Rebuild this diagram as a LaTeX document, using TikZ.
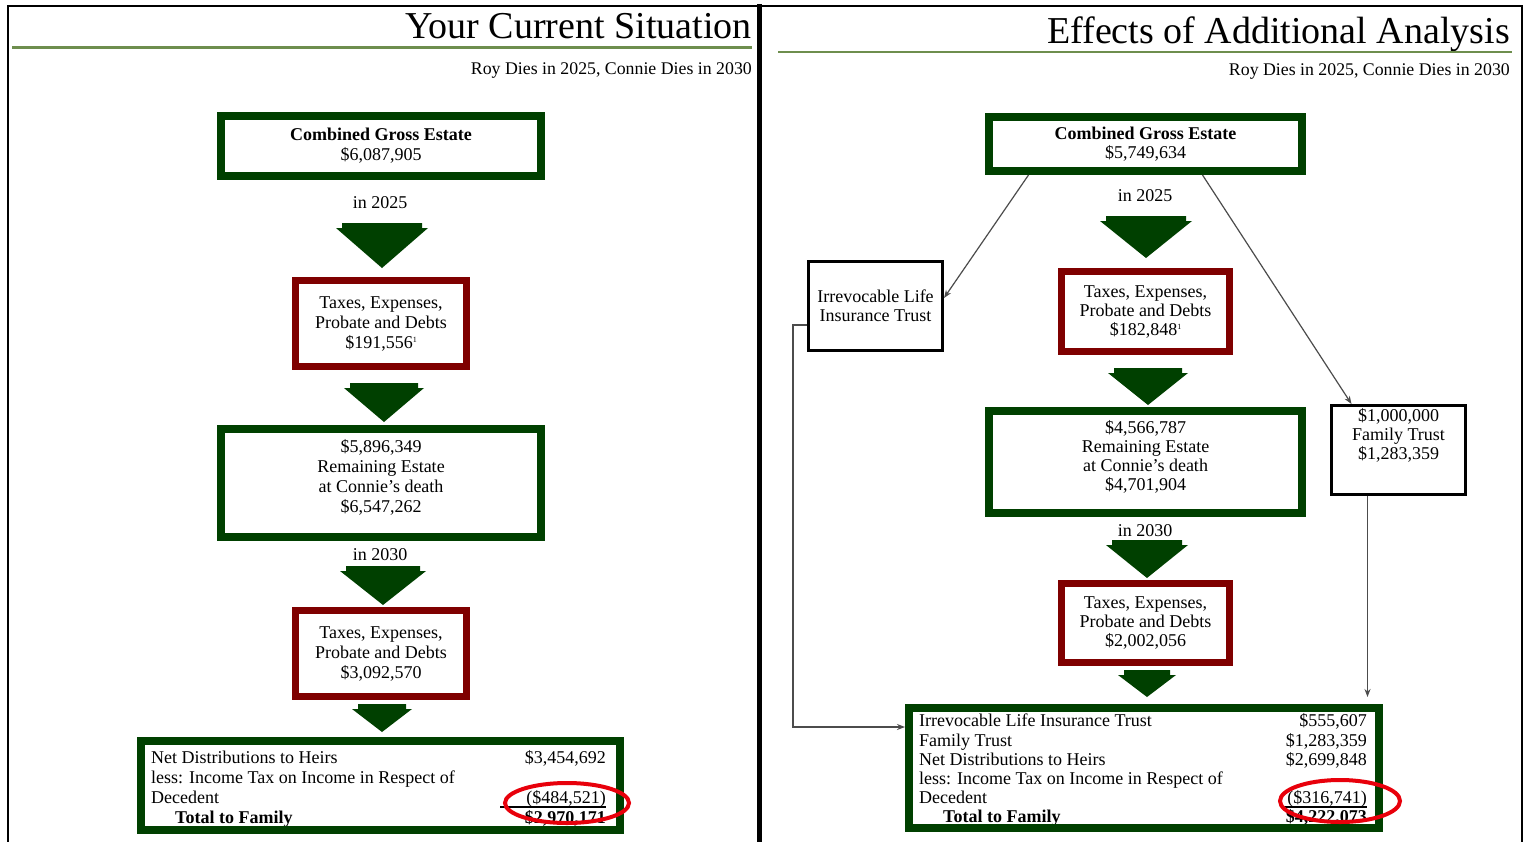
\documentclass[tikz,border=0pt]{standalone}
\usepackage{fontspec}
\setmainfont{Liberation Serif}
\usetikzlibrary{arrows.meta,calc}
\definecolor{dkgreen}{HTML}{004000}
\definecolor{dkred}{HTML}{7F0000}
\definecolor{rulegreen}{HTML}{6E8E4E}
\definecolor{ovalred}{HTML}{E8000B}
\newcommand\bt{\fontsize{18}{20}\selectfont}
\newcommand\btr{\fontsize{18}{19}\selectfont}
\newcommand\supone{\raisebox{6pt}{\fontsize{8}{8}\selectfont 1}}
\newcommand\blockarrow[4]{\fill[dkgreen] (#1-#3+6,#2) -- (#1+#3-6,#2) -- (#1+#3-6,#2+5) -- (#1+#3,#2+5) -- (#1,#2+#4) -- (#1-#3,#2+5) -- (#1-#3+6,#2+5) -- cycle;}
\begin{document}
\begin{tikzpicture}[x=1pt,y=-1pt,
  gbox/.style={draw=dkgreen,line width=8pt,inner sep=0pt,align=center,font=\bt},
  rbox/.style={draw=dkred,line width=7pt,inner sep=0pt,align=center,font=\bt},
  bbox/.style={draw=black,line width=3pt,inner sep=0pt,align=center,font=\btr},
  txt/.style={inner sep=0pt,font=\bt},
  conn/.style={draw=black!70,line width=1.2pt,-{Stealth[length=8pt,width=6pt]}},
  ttl/.style={inner sep=0pt,font=\fontsize{38}{40}\selectfont,anchor=base east},
  sub/.style={inner sep=0pt,font=\fontsize{17.8}{20}\selectfont,anchor=base east}]
\useasboundingbox (0,0) rectangle (1529,841);
\clip (0,0) rectangle (1529,841);
\fill[white] (0,0) rectangle (1529,841);
% panel frames
\draw[line width=2pt] (8,860) -- (8,6) -- (759,6);
\draw[line width=5pt] (759.5,4) -- (759.5,860);
\draw[line width=2pt] (759,6) -- (1522,6) -- (1522,860);
% ---------------- left panel ----------------
\node[ttl] (lt) at (752,38) {Your Current Situation};
\draw[rulegreen,line width=3pt] (12,47) -- (752,47);
\node[sub] (ls) at (752,74) {Roy Dies in 2025, Connie Dies in 2030};

\node[gbox,minimum width=320pt,minimum height=60pt] (l1) at (381,146) {\textbf{Combined Gross Estate}\\\$6,087,905};
\node[txt] (ly1) at (380,203) {in 2025};
\blockarrow{382}{223}{46}{45}
\node[rbox,minimum width=171pt,minimum height=86pt] (l2) at (381,323.5) {Taxes, Expenses,\\Probate and Debts\\\$191,556\supone};
\blockarrow{384}{383}{40}{39}
\node[gbox,minimum width=320pt,minimum height=108pt] (l3) at (381,483) {\$5,896,349\\Remaining Estate\\at Connie's death\\\$6,547,262\\[-6pt]};
\node[txt] (ly2) at (380,555) {in 2030};
\blockarrow{383}{566}{43}{39}
\node[rbox,minimum width=171pt,minimum height=86pt] (l4) at (381,653.5) {Taxes, Expenses,\\Probate and Debts\\\$3,092,570};
\blockarrow{382}{704}{30}{28}

\node[txt,anchor=base west] (la) at (151,763) {Net Distributions to Heirs};
\node[txt,anchor=base west] (lb) at (151,783) {less: Income Tax on Income in Respect of};
\node[txt,anchor=base west] (lc) at (151,803) {Decedent};
\node[txt,anchor=base west] (ld) at (175,823) {\textbf{Total to Family}};
\node[txt,anchor=base east] (lva) at (606,763) {\$3,454,692};
\node[txt,anchor=base east] (lvc) at (606,803) {(\$484,521)};
\node[txt,anchor=base east] (lvd) at (606,823) {\textbf{\$2,970,171}};
\draw[line width=1.2pt] (500,807) -- (lvc.base east |- 0,807);
\node[gbox,minimum width=479pt,minimum height=89pt] (l5) at (380.5,785.5) {};
\draw[ovalred,line width=4pt] (567,803) ellipse [x radius=62pt, y radius=20pt];

% ---------------- right panel ----------------
\node[ttl] (rt) at (1510,43) {Effects of Additional Analysis};
\draw[rulegreen,line width=2pt] (778,52) -- (1512,52);
\node[sub] (rs) at (1510,75) {Roy Dies in 2025, Connie Dies in 2030};

\node[gbox,minimum width=313pt,minimum height=54pt,font=\btr] (r1) at (1145.5,144) {\textbf{Combined Gross Estate}\\\$5,749,634};
\node[txt] (ry1) at (1145,196) {in 2025};
\blockarrow{1146}{216}{46}{42}
\node[bbox,minimum width=134pt,minimum height=89pt] (ilit) at (875.5,306) {Irrevocable Life\\Insurance Trust};
\node[rbox,minimum width=168pt,minimum height=80pt,font=\btr] (r2) at (1145.5,311.5) {Taxes, Expenses,\\Probate and Debts\\\$182,848\supone};
\blockarrow{1148}{368}{40}{37}
\node[gbox,minimum width=313pt,minimum height=102pt,font=\btr] (r3) at (1145.5,462) {\$4,566,787\\Remaining Estate\\at Connie's death\\\$4,701,904\\[-6pt]};
\node[txt] (ry2) at (1145,531) {in 2030};
\blockarrow{1147}{540}{41}{38}
\node[rbox,minimum width=168pt,minimum height=79pt,font=\btr] (r4) at (1145.5,623) {Taxes, Expenses,\\Probate and Debts\\\$2,002,056};
\blockarrow{1147}{670}{29}{27}
\node[bbox,minimum width=134pt,minimum height=89pt] (ft) at (1398.5,450) {};
\node[txt,font=\btr,align=center,anchor=north] (ftt) at ([yshift=-4pt]ft.north) {\$1,000,000\\Family Trust\\\$1,283,359};

\node[txt,anchor=base west] (ra) at (919,726) {Irrevocable Life Insurance Trust};
\node[txt,anchor=base west] (rb) at (919,746) {Family Trust};
\node[txt,anchor=base west] (rc) at (919,765) {Net Distributions to Heirs};
\node[txt,anchor=base west] (rd) at (919,784) {less: Income Tax on Income in Respect of};
\node[txt,anchor=base west] (re) at (919,803) {Decedent};
\node[txt,anchor=base west] (rf) at (943,822) {\textbf{Total to Family}};
\node[txt,anchor=base east] (rva) at (1367,726) {\$555,607};
\node[txt,anchor=base east] (rvb) at (1367,746) {\$1,283,359};
\node[txt,anchor=base east] (rvc) at (1367,765) {\$2,699,848};
\node[txt,anchor=base east] (rve) at (1367,803) {(\$316,741)};
\node[txt,anchor=base east] (rvf) at (1367,822) {\textbf{\$4,222,073}};
\draw[line width=1.2pt] (1282,807) -- (rve.base east |- 0,807);
\node[gbox,minimum width=470pt,minimum height=120pt] (fam) at (1144,768) {};

% connectors
\draw[conn] ([xshift=-117pt]r1.south) -- ([yshift=8pt]ilit.east);
\draw[conn] ([xshift=57pt]r1.south) -- ([xshift=-47pt]ft.north);
\draw[conn,shorten >=7pt] ([xshift=-31pt]ft.south) -- ([xshift=-31pt]ft.south |- fam.north);
\draw[conn] ([yshift=-19pt]ilit.west) -- ++(-14,0) |- ([yshift=41pt]fam.west);

\draw[ovalred,line width=4pt] (1340,801) ellipse [x radius=60pt, y radius=21pt];
\end{tikzpicture}
\end{document}
